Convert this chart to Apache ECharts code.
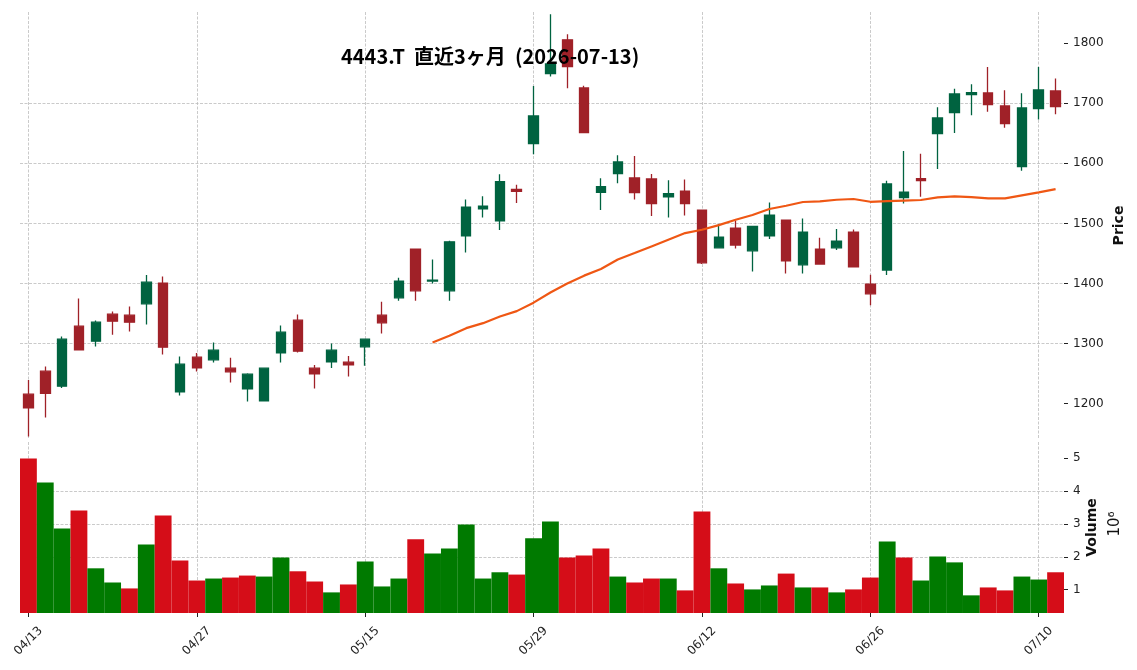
<!DOCTYPE html>
<html>
<head>
<meta charset="utf-8">
<script src="https://cdn.jsdelivr.net/npm/echarts@6/dist/echarts.min.js"></script>
<style>
    html, body { margin: 0; padding: 0; background: #fff; }
    #chart { width: 1137px; height: 670px; }
</style>
</head>
<body>
<div id="chart"></div>
<script>
var dates = [
    '04/13', '04/14', '04/15', '04/16', '04/17', '04/20', '04/21', '04/22', '04/23', '04/24',
    '04/27', '04/28', '04/30', '05/01', '05/07', '05/08', '05/11', '05/12', '05/13', '05/14',
    '05/15', '05/18', '05/19', '05/20', '05/21', '05/22', '05/25', '05/26', '05/27', '05/28',
    '05/29', '06/01', '06/02', '06/03', '06/04', '06/05', '06/08', '06/09', '06/10', '06/11',
    '06/12', '06/15', '06/16', '06/17', '06/18', '06/19', '06/22', '06/23', '06/24', '06/25',
    '06/26', '06/29', '06/30', '07/01', '07/02', '07/03', '07/06', '07/07', '07/08', '07/09',
    '07/10', '07/13'
];
var opens = [
    1215.6, 1253.9, 1228.9, 1328.9, 1303.9, 1348.9, 1347.2, 1366.1, 1400.6, 1219.4,
    1277.2, 1272.8, 1258.9, 1224.4, 1204.4, 1284.4, 1338.9, 1258.9, 1269.4, 1268.9,
    1294.4, 1347.2, 1376.1, 1457.2, 1404.0, 1387.8, 1479.4, 1524.4, 1504.4, 1556.5,
    1632.8, 1749.4, 1805.6, 1725.6, 1551.5, 1582.8, 1575.6, 1573.9, 1544.4, 1553.9,
    1522.2, 1459.4, 1492.2, 1454.4, 1479.4, 1505.6, 1431.1, 1457.2, 1459.4, 1485.6,
    1398.9, 1422.2, 1542.8, 1574.4, 1649.4, 1684.4, 1714.4, 1717.2, 1695.6, 1594.4,
    1691.1, 1720.6
];
var closes = [
    1192.8, 1217.2, 1307.2, 1289.4, 1335.6, 1337.2, 1335.6, 1402.2, 1293.9, 1265.6,
    1259.4, 1288.9, 1252.8, 1248.9, 1258.9, 1318.9, 1287.2, 1249.4, 1288.9, 1264.4,
    1307.2, 1334.4, 1403.9, 1387.8, 1405.6, 1469.4, 1527.2, 1528.9, 1569.5, 1553.5,
    1678.9, 1765.6, 1761.1, 1651.1, 1561.0, 1602.2, 1551.1, 1532.8, 1549.4, 1532.8,
    1434.4, 1477.2, 1463.9, 1495.0, 1513.9, 1437.8, 1485.6, 1432.2, 1470.6, 1427.8,
    1382.8, 1565.6, 1552.2, 1571.1, 1675.6, 1715.6, 1717.8, 1697.8, 1666.1, 1692.2,
    1722.2, 1694.4
];
var lows = [
    1145.0, 1176.7, 1226.0, 1289.0, 1295.0, 1314.4, 1320.0, 1331.7, 1281.7, 1213.3,
    1253.3, 1268.3, 1235.0, 1203.3, 1204.0, 1268.3, 1285.0, 1225.0, 1259.4, 1245.0,
    1262.8, 1316.7, 1371.1, 1371.1, 1400.0, 1371.1, 1451.7, 1510.0, 1489.0, 1534.0,
    1615.0, 1744.4, 1725.0, 1651.0, 1522.2, 1566.7, 1540.0, 1512.2, 1510.0, 1513.3,
    1432.2, 1458.3, 1458.3, 1420.0, 1473.9, 1416.7, 1416.7, 1431.1, 1455.6, 1427.0,
    1363.9, 1413.9, 1533.3, 1544.4, 1590.6, 1650.6, 1680.0, 1686.1, 1659.4, 1587.8,
    1672.8, 1681.7
];
var highs = [
    1239.4, 1261.7, 1311.7, 1375.0, 1338.3, 1353.3, 1361.7, 1413.9, 1411.7, 1278.3,
    1284.4, 1301.7, 1276.1, 1250.6, 1259.0, 1330.0, 1348.3, 1264.4, 1300.0, 1279.4,
    1308.0, 1369.4, 1409.4, 1457.5, 1440.0, 1471.1, 1540.0, 1545.0, 1581.7, 1564.5,
    1728.9, 1848.3, 1815.0, 1729.4, 1575.0, 1613.3, 1612.2, 1582.2, 1571.7, 1573.3,
    1522.5, 1498.9, 1504.4, 1495.5, 1535.0, 1506.0, 1508.3, 1476.1, 1490.6, 1490.0,
    1414.4, 1571.1, 1620.6, 1616.1, 1693.3, 1724.4, 1731.7, 1760.6, 1721.7, 1716.7,
    1760.6, 1741.1
];
var volumes = [
    4980000, 4250000, 2860000, 3400000, 1650000, 1220000, 1040000, 2370000, 3250000, 1890000,
    1280000, 1340000, 1370000, 1430000, 1400000, 1980000, 1560000, 1250000, 920000, 1160000,
    1860000, 1100000, 1340000, 2530000, 2100000, 2250000, 2980000, 1340000, 1530000, 1460000,
    2560000, 3070000, 1980000, 2040000, 2250000, 1400000, 1220000, 1340000, 1340000, 980000,
    3370000, 1650000, 1190000, 1010000, 1130000, 1490000, 1070000, 1070000, 920000, 1010000,
    1370000, 2460000, 1980000, 1280000, 2010000, 1830000, 830000, 1070000, 980000, 1400000,
    1310000, 1530000
];
var ma25 = [
    null, null, null, null, null, null, null, null, null, null,
    null, null, null, null, null, null, null, null, null, null,
    null, null, null, null, 1301.7, 1312.8, 1325.6, 1333.9, 1345.0, 1353.9,
    1368.0, 1385.0, 1400.0, 1413.0, 1424.0, 1440.0, 1450.6, 1461.7, 1472.8, 1483.9,
    1489.4, 1497.2, 1506.1, 1513.9, 1523.9, 1529.4, 1535.6, 1536.7, 1539.4, 1540.6,
    1536.0, 1537.0, 1538.0, 1539.0, 1543.3, 1545.0, 1543.9, 1541.7, 1541.7, 1546.7,
    1551.7, 1557.2
];
var priceTicks = [1200, 1300, 1400, 1500, 1600, 1700, 1800];
var volumeTicks = [1000000, 2000000, 3000000, 4000000, 5000000];

var candleData = [];
var volData = [];
for (var i = 0; i < dates.length; i++) {
    candleData.push([opens[i], closes[i], lows[i], highs[i]]);
    var prev = i > 0 ? closes[i - 1] : opens[i];
    volData.push({
        value: volumes[i],
        itemStyle: {color: closes[i] >= prev ? '#007a00' : '#d50d18'}
    });
}

var gridLine = {color: '#bcbcbc', width: 0.8, type: [3, 1.5]};
var nameFont = {fontFamily: 'DejaVu Sans', fontSize: 14, fontWeight: 'bold', color: '#111'};

var option = {
    animation: false,
    backgroundColor: '#fff',
    title: {
        text: '4443.T  直近3ヶ月  (2026-07-13)',
        left: 341,
        top: 44,
        padding: 0,
        textStyle: {
            fontFamily: 'Noto Sans CJK JP',
            fontSize: 20,
            fontWeight: 'bold',
            color: '#000',
            lineHeight: 24
        }
    },
    grid: [
        {left: 20, right: 73, top: 12, height: 427},
        {left: 20, right: 73, top: 442, height: 171}
    ],
    xAxis: [
        {
            type: 'category',
            gridIndex: 0,
            data: dates,
            boundaryGap: true,
            axisLine: {show: false},
            axisTick: {show: false},
            axisLabel: {show: false},
            splitLine: {show: true, interval: 9, alignWithLabel: true, lineStyle: gridLine}
        },
        {
            type: 'category',
            gridIndex: 1,
            data: dates,
            boundaryGap: true,
            axisLine: {show: false},
            axisTick: {show: true, interval: 9, alignWithLabel: true, length: 4,
                lineStyle: {color: '#222', width: 1}},
            axisLabel: {
                interval: 9, rotate: 45, align: 'center', verticalAlign: 'middle',
                margin: 28, fontFamily: 'DejaVu Sans', fontSize: 12, color: '#222'
            },
            splitLine: {show: true, interval: 9, alignWithLabel: true, lineStyle: gridLine}
        }
    ],
    yAxis: [
        {
            type: 'value',
            gridIndex: 0,
            position: 'right',
            min: 1141,
            max: 1852,
            axisLine: {show: false},
            axisTick: {show: true, length: 4, customValues: priceTicks,
                lineStyle: {color: '#222', width: 1}},
            axisLabel: {
                margin: 9, customValues: priceTicks, fontFamily: 'DejaVu Sans',
                fontSize: 12, color: '#222',
                formatter: function (v) { return String(v); }
            },
            splitLine: {show: true, showMinLine: false, showMaxLine: false, lineStyle: gridLine},
            name: 'Price',
            nameLocation: 'middle',
            nameRotate: 90,
            nameGap: 48,
            nameMoveOverlap: false,
            nameTextStyle: nameFont
        },
        {
            type: 'value',
            gridIndex: 1,
            position: 'right',
            min: 295000,
            max: 5480000,
            axisLine: {show: false},
            axisTick: {show: true, length: 4, customValues: volumeTicks,
                lineStyle: {color: '#222', width: 1}},
            axisLabel: {
                margin: 9, customValues: volumeTicks, fontFamily: 'DejaVu Sans',
                fontSize: 12, color: '#222',
                formatter: function (v) { return String(Math.round(v / 1000000)); }
            },
            splitLine: {show: true, showMinLine: false, showMaxLine: false, lineStyle: gridLine},
            name: 'Volume',
            nameLocation: 'middle',
            nameRotate: 90,
            nameGap: 21,
            nameMoveOverlap: false,
            nameTextStyle: nameFont
        }
    ],
    graphic: [
        {
            type: 'text',
            x: 1115,
            y: 524,
            rotation: Math.PI / 2,
            style: {
                text: '10⁶',
                fontFamily: 'DejaVu Sans',
                fontSize: 15,
                fill: '#111',
                align: 'center',
                verticalAlign: 'middle'
            }
        }
    ],
    series: [
        {
            name: 'candle',
            type: 'candlestick',
            xAxisIndex: 0,
            yAxisIndex: 0,
            data: candleData,
            barWidth: 10,
            itemStyle: {
                color: '#006340',
                color0: '#a02128',
                borderColor: '#006340',
                borderColor0: '#a02128',
                borderWidth: 1.3
            }
        },
        {
            name: 'MA25',
            type: 'line',
            xAxisIndex: 0,
            yAxisIndex: 0,
            data: ma25,
            showSymbol: false,
            connectNulls: false,
            lineStyle: {color: '#ef5714', width: 2.2}
        },
        {
            name: 'volume',
            type: 'bar',
            xAxisIndex: 1,
            yAxisIndex: 1,
            data: volData,
            barWidth: '100%',
            barGap: '0%'
        }
    ]
};

var chart = echarts.init(document.getElementById('chart'));
chart.setOption(option);
</script>
</body>
</html>
